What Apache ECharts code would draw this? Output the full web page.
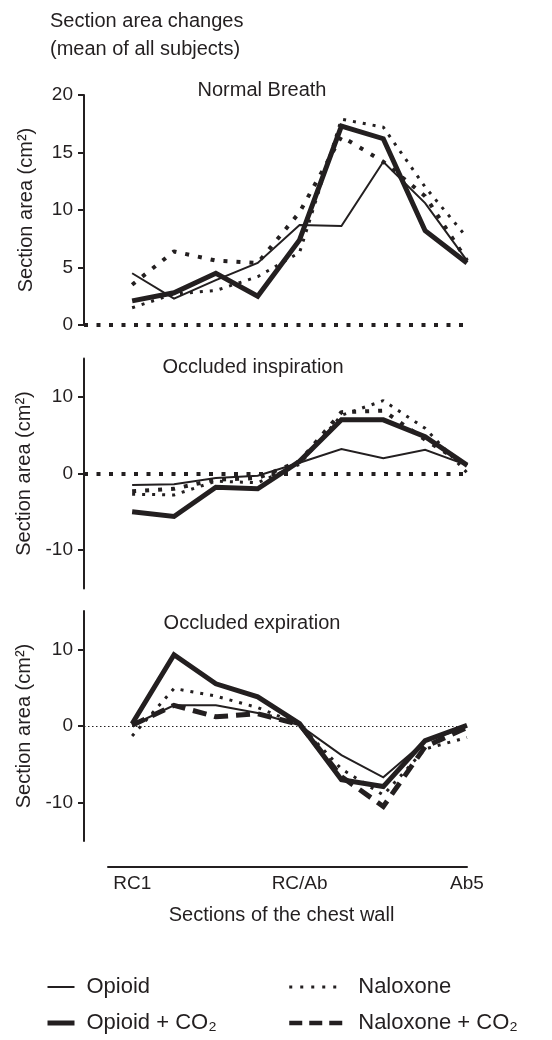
<!DOCTYPE html>
<html>
<head>
<meta charset="utf-8">
<script src="https://cdn.jsdelivr.net/npm/echarts@6/dist/echarts.min.js"></script>
<style>
html,body{margin:0;padding:0;background:#fff;}
#chart{width:552px;height:1040px;}
</style>
</head>
<body>
<div id="chart"></div>
<script>
// ---- data ----
const sectionIndex = [0, 1, 2, 3, 4, 5, 6, 7, 8];
const tickPositions = [0, 4, 8];
const tickLabels = ['RC1', 'RC/Ab', 'Ab5'];
const seriesNames = ['Opioid', 'Opioid + CO\u2082', 'Naloxone', 'Naloxone + CO\u2082'];
const panelTitles = ['Normal Breath', 'Occluded inspiration', 'Occluded expiration'];

// Normal breath
const opioidNormal      = [4.5, 2.3, 3.9, 5.4, 8.7, 8.6, 14.2, 10.6, 5.6];
const opioidCO2Normal   = [2.1, 2.8, 4.5, 2.5, 7.4, 17.3, 16.2, 8.2, 5.4];
const naloxoneNormal    = [1.5, 2.7, 3.0, 4.2, 6.3, 17.9, 17.2, 12.0, 7.6];
const naloxoneCO2Normal = [3.5, 6.4, 5.6, 5.4, 9.8, 16.4, 14.2, 11.2, 5.6];
// Occluded inspiration
const opioidInsp      = [-1.5, -1.4, -0.6, -0.3, 1.4, 3.2, 2.0, 3.1, 1.1];
const opioidCO2Insp   = [-5.0, -5.6, -1.8, -2.0, 1.6, 7.0, 7.0, 4.8, 1.1];
const naloxoneInsp    = [-2.7, -2.8, -1.0, -1.2, 1.2, 7.6, 9.5, 5.9, 0.1];
const naloxoneCO2Insp = [-2.3, -2.0, -0.8, -0.6, 1.6, 8.0, 8.2, 4.4, 1.0];
// Occluded expiration
const opioidExp      = [0.1, 2.7, 2.7, 1.7, 0.1, -3.8, -6.7, -2.0, -0.1];
const opioidCO2Exp   = [0.3, 9.3, 5.5, 3.8, 0.3, -7.0, -7.9, -1.9, 0.1];
const naloxoneExp    = [-1.3, 4.9, 3.9, 2.4, 0.2, -5.6, -9.0, -3.0, -1.5];
const naloxoneCO2Exp = [0.1, 2.7, 1.2, 1.6, 0.2, -6.6, -10.5, -2.7, -0.2];

// ---- styles ----
const INK = '#231f20';
const FONT = "'Liberation Sans', Arial, Helvetica, sans-serif";
const styleThin   = {color: INK, width: 2, type: 'solid', join: 'miter'};
const styleThick  = {color: INK, width: 5, type: 'solid', join: 'miter'};
const styleFine   = {color: INK, width: 3, type: [3, 7], cap: 'butt'};
const styleHeavy  = {color: INK, width: 4, type: [4, 9], cap: 'butt'};
const styleDashed = {color: INK, width: 5, type: [14, 8], cap: 'butt', join: 'miter'};

const panels = [
  {data: [opioidNormal, opioidCO2Normal, naloxoneNormal, naloxoneCO2Normal],
   styles: [styleThin, styleThick, styleFine, styleHeavy],
   zero: {color: INK, width: 4, type: [4, 8.5], cap: 'butt'}},
  {data: [opioidInsp, opioidCO2Insp, naloxoneInsp, naloxoneCO2Insp],
   styles: [styleThin, styleThick, styleFine, styleHeavy],
   zero: {color: INK, width: 4, type: [4, 8.5], cap: 'butt'}},
  {data: [opioidExp, opioidCO2Exp, naloxoneExp, naloxoneCO2Exp],
   styles: [styleThin, styleThick, styleFine, styleDashed],
   zero: {color: INK, width: 1, type: [1.5, 2.5]}}
];

const gridTops = [95, 358.5, 611];
const gridH = [230, 230, 230];

const grids = gridTops.map((t, i) => ({left: 84, right: 85, top: t, height: gridH[i]}));
grids.push({left: 108, right: 85, top: 866, height: 1});

const xAxes = [0, 1, 2].map(i => ({
  type: 'value', gridIndex: i, min: -1.15, max: 8, show: false
}));
xAxes.push({
  type: 'value', gridIndex: 3, min: -0.58, max: 8, position: 'bottom',
  axisLine: {show: true, onZero: false, lineStyle: {color: INK, width: 2}},
  axisTick: {show: false},
  splitLine: {show: false},
  axisLabel: {
    customValues: tickPositions,
    formatter: v => tickLabels[tickPositions.indexOf(v)] || '',
    color: INK, fontSize: 19, fontFamily: FONT, margin: 7
  },
  name: 'Sections of the chest wall', nameLocation: 'middle', nameGap: 38,
  nameTextStyle: {color: INK, fontSize: 20, fontFamily: FONT, padding: [0, 12, 0, 0]}
});

const yCommon = {
  type: 'value',
  axisLine: {show: true, onZero: false, lineStyle: {color: INK, width: 2}},
  axisTick: {show: true, length: 6, lineStyle: {color: INK, width: 2}},
  splitLine: {show: false},
  axisLabel: {color: INK, fontSize: 19, fontFamily: FONT, margin: 11},
  name: 'Section area (cm\u00b2)', nameLocation: 'middle', nameRotate: 90, nameGap: 48,
  nameTextStyle: {color: INK, fontSize: 20, fontFamily: FONT}
};
const yAxes = [
  Object.assign({}, yCommon, {gridIndex: 0, min: 0, max: 20, interval: 5}),
  Object.assign({}, yCommon, {gridIndex: 1, min: -15, max: 15,
    axisLabel: Object.assign({}, yCommon.axisLabel, {customValues: [-10, 0, 10]}),
    axisTick: Object.assign({}, yCommon.axisTick, {customValues: [-10, 0, 10]})}),
  Object.assign({}, yCommon, {gridIndex: 2, min: -15, max: 15,
    axisLabel: Object.assign({}, yCommon.axisLabel, {customValues: [-10, 0, 10]}),
    axisTick: Object.assign({}, yCommon.axisTick, {customValues: [-10, 0, 10]})}),
  {type: 'value', gridIndex: 3, min: 0, max: 1, show: false}
];

const series = [];
panels.forEach((p, pi) => {
  p.data.forEach((arr, si) => {
    const s = {
      type: 'line', name: seriesNames[si],
      xAxisIndex: pi, yAxisIndex: pi,
      data: sectionIndex.map((x, j) => [x, arr[j]]),
      symbol: 'none', showSymbol: false, color: INK,
      itemStyle: {color: INK},
      lineStyle: p.styles[si], silent: true,
      z: si === 1 ? 4 : 3
    };
    if (si === 0) {
      s.markLine = {
        silent: true, symbol: ['none', 'none'], label: {show: false},
        lineStyle: p.zero, data: [{yAxis: 0}], animation: false
      };
    }
    series.push(s);
  });
});

const graphics = [
  {type: 'text', x: 50, y: 21, style: {text: 'Section area changes', font: '20px ' + FONT, fill: INK, textVerticalAlign: 'middle'}},
  {type: 'text', x: 50, y: 49, style: {text: '(mean of all subjects)', font: '20px ' + FONT, fill: INK, textVerticalAlign: 'middle'}},
  {type: 'text', x: 262, y: 90, style: {text: panelTitles[0], font: '20px ' + FONT, fill: INK, textAlign: 'center', textVerticalAlign: 'middle'}},
  {type: 'text', x: 253, y: 367, style: {text: panelTitles[1], font: '20px ' + FONT, fill: INK, textAlign: 'center', textVerticalAlign: 'middle'}},
  {type: 'text', x: 252, y: 623, style: {text: panelTitles[2], font: '20px ' + FONT, fill: INK, textAlign: 'center', textVerticalAlign: 'middle'}}
];

const legendText = {color: INK, fontSize: 22, fontFamily: FONT};
const hiddenSymbol = {color: 'rgba(0,0,0,0)', opacity: 0, borderWidth: 0};
const option = {
  animation: false,
  backgroundColor: '#fff',
  grid: grids,
  xAxis: xAxes,
  yAxis: yAxes,
  series: series,
  graphic: graphics,
  legend: [
    {orient: 'vertical', left: 45, top: 976, height: 64, padding: 0,
     itemWidth: 27, itemHeight: 22, itemGap: 14,
     selectedMode: false, textStyle: Object.assign({padding: [0, 0, 0, 7]}, legendText),
     data: [
       {name: seriesNames[0], itemStyle: hiddenSymbol, lineStyle: styleThin},
       {name: seriesNames[1], itemStyle: hiddenSymbol, lineStyle: styleThick}
     ]},
    {orient: 'vertical', left: 287, top: 976, height: 64, padding: 0,
     itemWidth: 53, itemHeight: 22, itemGap: 14,
     selectedMode: false, textStyle: Object.assign({padding: [0, 0, 0, 11]}, legendText),
     data: [
       {name: seriesNames[2], itemStyle: hiddenSymbol, lineStyle: {color: INK, width: 3, type: [3, 8]}},
       {name: seriesNames[3], itemStyle: hiddenSymbol, lineStyle: {color: INK, width: 4.5, type: [13, 7]}}
     ]}
  ]
};

const chart = echarts.init(document.getElementById('chart'), null, {renderer: 'canvas'});
chart.setOption(option);
</script>
</body>
</html>
